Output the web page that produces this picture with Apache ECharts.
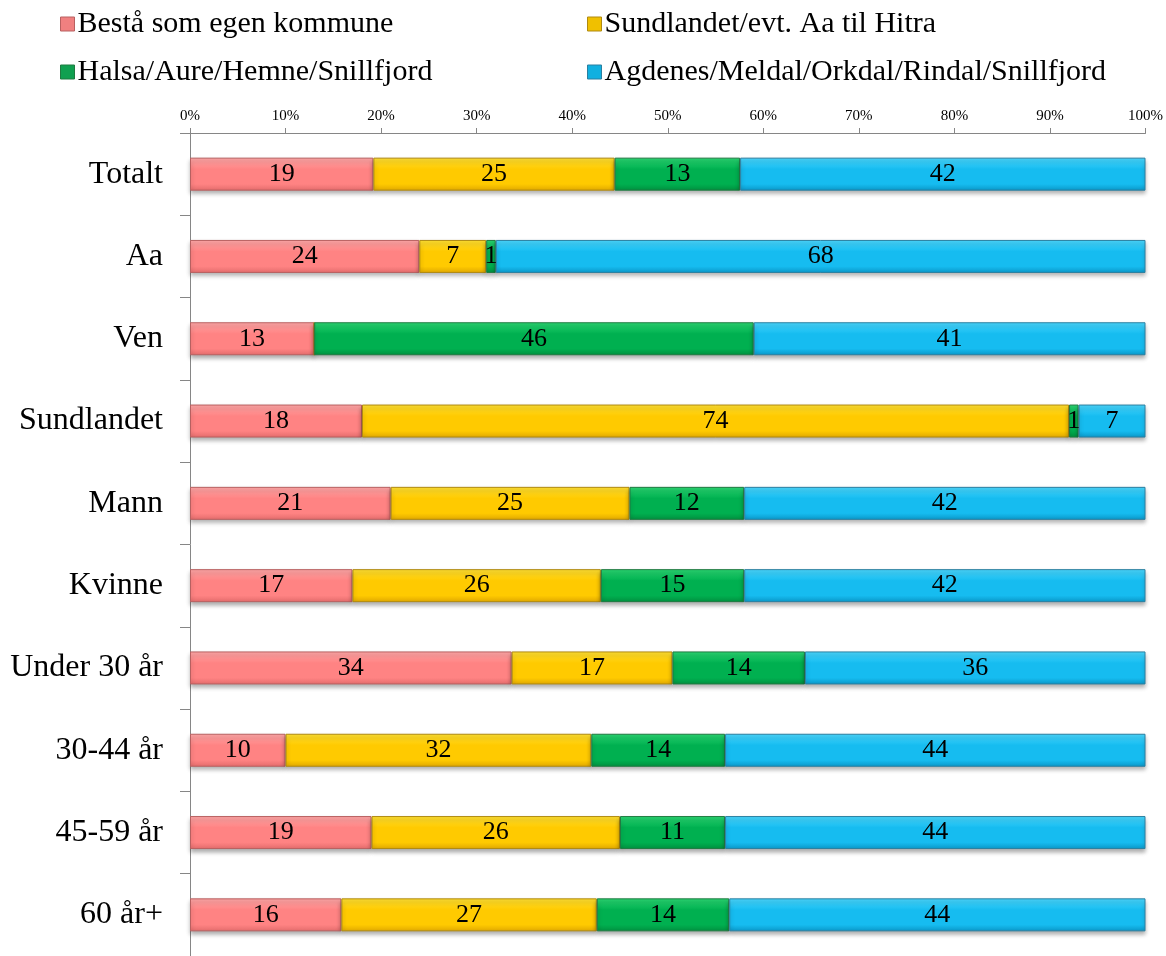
<!DOCTYPE html>
<html>
<head>
<meta charset="utf-8">
<script src="https://cdn.jsdelivr.net/npm/echarts@6/dist/echarts.min.js"></script>
<style>html,body{margin:0;padding:0;background:#fff}#c{width:1166px;height:956px}</style>
</head>
<body>
<div id="c"></div>
<script>
var categories = ['Totalt', 'Aa', 'Ven', 'Sundlandet', 'Mann', 'Kvinne', 'Under 30 år', '30-44 år', '45-59 år', '60 år+'];
var seriesNames = ['Bestå som egen kommune', 'Sundlandet/evt. Aa til Hitra', 'Halsa/Aure/Hemne/Snillfjord', 'Agdenes/Meldal/Orkdal/Rindal/Snillfjord'];
var egenKommune = [19, 24, 13, 18, 21, 17, 34, 10, 19, 16];
var sundlandet  = [25, 7, 0, 74, 25, 26, 17, 32, 26, 27];
var halsa       = [13, 1, 46, 1, 12, 15, 14, 14, 11, 14];
var agdenes     = [42, 68, 41, 7, 42, 42, 36, 44, 44, 44];
var xTickLabels = ['0%', '10%', '20%', '30%', '40%', '50%', '60%', '70%', '80%', '90%', '100%'];

var raw = [egenKommune, sundlandet, halsa, agdenes];
var totals = categories.map(function (_, i) {
  return raw.reduce(function (s, arr) { return s + arr[i]; }, 0);
});

var fills = [
  ['#FFA8A8', '#FF8383', '#E36C6C'],
  ['#FFE033', '#FFCA00', '#E0A800'],
  ['#2BD873', '#00B050', '#00903F'],
  ['#4BD8FF', '#16BCF0', '#0A97C8']
];
var borders = ['#B86060', '#B08A10', '#1F7A40', '#2A7FA0'];
var icons = ['#F08080', '#F0C000', '#10A050', '#10B0E0'];

function grad(c) {
  return new echarts.graphic.LinearGradient(0, 0, 0, 1, [
    { offset: 0, color: c[0] },
    { offset: 0.35, color: c[1] },
    { offset: 0.8, color: c[1] },
    { offset: 1, color: c[2] }
  ]);
}

var font = '"Liberation Serif", "Times New Roman", serif';

var series = raw.map(function (arr, k) {
  return {
    name: seriesNames[k],
    type: 'bar',
    stack: 'total',
    barWidth: 33,
    data: arr.map(function (v, i) { return { value: v / totals[i] * 100, raw: v }; }),
    itemStyle: {
      color: grad(fills[k]),
      borderColor: borders[k],
      borderWidth: 1,
      shadowColor: 'rgba(0,0,0,0.3)',
      shadowBlur: 4,
      shadowOffsetY: 3
    },
    label: {
      show: true,
      position: 'inside',
      color: '#000',
      fontFamily: font,
      fontSize: 26,
      formatter: function (p) { return p.data.raw === 0 ? '' : String(p.data.raw); }
    },
    emphasis: { disabled: true }
  };
});

var legendPos = [[55, 4], [582, 4], [55, 52], [582, 52]];
var legends = seriesNames.map(function (n, k) {
  return {
    data: [{ name: n, itemStyle: { color: icons[k], borderColor: borders[k], borderWidth: 1 } }],
    left: legendPos[k][0],
    top: legendPos[k][1],
    icon: 'rect',
    itemWidth: 14,
    itemHeight: 14,
    itemGap: 4,
    textStyle: { fontFamily: font, fontSize: 30, color: '#000', padding: [0, 0, 0, -2] },
    selectedMode: false
  };
});

var chart = echarts.init(document.getElementById('c'), null, { renderer: 'canvas' });
chart.setOption({
  backgroundColor: '#fff',
  animation: false,
  legend: legends,
  grid: { left: 190, right: 18, top: 133, bottom: -3, containLabel: false },
  xAxis: {
    type: 'value',
    position: 'top',
    min: 0,
    max: 100,
    interval: 10,
    axisLine: { show: true, lineStyle: { color: '#868686', width: 1 } },
    axisTick: { show: true, length: 5, lineStyle: { color: '#868686' } },
    splitLine: { show: false },
    axisLabel: {
      color: '#000',
      fontFamily: font,
      fontSize: 15,
      margin: 9,
      formatter: function (v) { return xTickLabels[Math.round(v / 10)]; }
    }
  },
  yAxis: {
    type: 'category',
    inverse: true,
    data: categories,
    axisLine: { show: true, lineStyle: { color: '#868686', width: 1 } },
    axisTick: { show: true, length: 10, lineStyle: { color: '#868686' } },
    axisLabel: { color: '#000', fontFamily: font, fontSize: 32, margin: 27 }
  },
  series: series
});
</script>
</body>
</html>
